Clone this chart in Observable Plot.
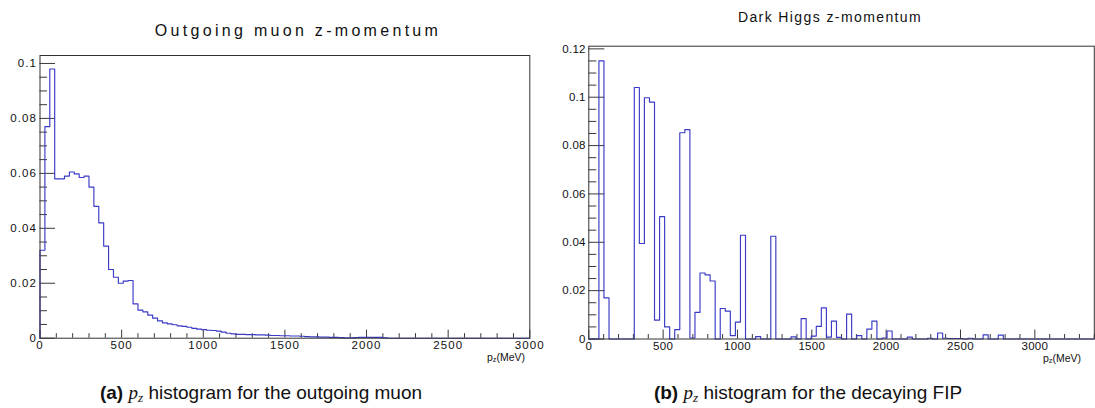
<!DOCTYPE html>
<html>
<head>
<meta charset="utf-8">
<script src="https://cdn.jsdelivr.net/npm/d3@7"></script>
<script src="https://cdn.jsdelivr.net/npm/@observablehq/plot@0.6"></script>
<style>
  html, body { margin: 0; padding: 0; background: #fff; }
  body { width: 1095px; height: 408px; position: relative; overflow: hidden; font-family: "Liberation Sans", Arial, sans-serif; color: #000; }
  .panel { position: absolute; top: 0; }
  .title { position: absolute; white-space: nowrap; transform: translateX(-50%); color: #111; }
  .caption { position: absolute; white-space: nowrap; transform: translateX(-50%); font-size: 19px; top: 382px; color: #111; }
  .caption .m { font-family: "Liberation Serif", "DejaVu Serif", serif; font-style: italic; }
  .caption sub { font-size: 70%; vertical-align: -0.25em; }
  .axlab { position: absolute; white-space: nowrap; font-size: 10.5px; line-height: 11px; color: #111; }
  .axlab sub { font-size: 70%; vertical-align: -0.2em; }
</style>
</head>
<body>
<div id="left" class="panel" style="left:0px"></div>
<div id="right" class="panel" style="left:545px"></div>
<div class="title" style="left:298px; top:22px; font-size:16px; letter-spacing:3.3px;">Outgoing muon z-momentum</div>
<div class="title" style="left:830px; top:9px; font-size:14px; letter-spacing:1.4px;">Dark Higgs z-momentum</div>
<div class="axlab" style="left:487px; top:352px;">p<sub>z</sub>(MeV)</div>
<div class="axlab" style="left:1043px; top:353px;">p<sub>z</sub>(MeV)</div>
<div class="caption" style="left:261px;"><b>(a)</b> <span class="m">p<sub>z</sub></span> histogram for the outgoing muon</div>
<div class="caption" style="left:808px;"><b>(b)</b> <span class="m">p<sub>z</sub></span> histogram for the decaying FIP</div>
<script>
// ---- Data ----
const muonBinWidth = 30;   // MeV, 100 bins over 0..3000
const muonValues = [
  0.032, 0.077, 0.098, 0.058, 0.058, 0.059, 0.0605, 0.0598, 0.0585, 0.059,
  0.055, 0.048, 0.042, 0.0335, 0.025, 0.0222, 0.020, 0.0208, 0.021, 0.0125,
  0.0102, 0.0096, 0.0084, 0.0073, 0.0063, 0.0056, 0.0052, 0.0049, 0.0045, 0.0043,
  0.0040, 0.0036, 0.0033, 0.0031, 0.0029, 0.0028, 0.0026, 0.0022, 0.0018, 0.0016,
  0.0014, 0.0014, 0.0013, 0.0013, 0.0012, 0.0012, 0.0011, 0.0010, 0.0010, 0.0009,
  0.0009, 0.0008, 0.0008, 0.0007, 0.0006, 0.0005, 0.0005, 0.0004, 0.0004, 0.0003,
  0.0003, 0.0002, 0.0001, 0.0001, 0.0002, 0.0003, 0.0003, 0.0003, 0.0003, 0.0003,
  0.0001, 0, 0, 0, 0, 0, 0, 0, 0, 0,
  0, 0, 0, 0, 0, 0, 0, 0, 0, 0,
  0, 0, 0, 0, 0, 0, 0, 0, 0, 0
];
const higgsBinWidth = 34;  // MeV, 100 bins over 0..3400
const higgsValues = [
  0, 0, 0.115, 0.017, 0, 0, 0, 0, 0, 0.104,
  0.0395, 0.0998, 0.098, 0.0078, 0.0506, 0.005, 0, 0.0039, 0.0853, 0.0866,
  0.0004, 0.011, 0.0273, 0.0265, 0.024, 0, 0.0126, 0.0115, 0.0014, 0.007,
  0.0429, 0, 0, 0.001, 0, 0, 0.0425, 0, 0, 0,
  0.0009, 0, 0.0084, 0, 0.0012, 0.0052, 0.0129, 0.0008, 0.0074, 0.0007,
  0, 0.0103, 0, 0.0014, 0, 0.0041, 0.0074, 0, 0.0004, 0.0033,
  0, 0, 0, 0.0008, 0, 0, 0, 0.0003, 0, 0.0025,
  0.0003, 0.0002, 0.0002, 0.0002, 0, 0.0003, 0, 0, 0.0017, 0,
  0, 0.0016, 0, 0, 0, 0, 0, 0, 0, 0,
  0, 0, 0, 0, 0, 0, 0, 0, 0, 0
];
const muonXMajor = [0, 500, 1000, 1500, 2000, 2500, 3000];
const muonYMajor = [0, 0.02, 0.04, 0.06, 0.08, 0.1];
const higgsXMajor = [0, 500, 1000, 1500, 2000, 2500, 3000];
const higgsYMajor = [0, 0.02, 0.04, 0.06, 0.08, 0.1, 0.12];

// ---- Helpers ----
function histPoints(values, w) {
  const pts = [{x: 0, y: 0}];
  values.forEach((v, i) => pts.push({x: i * w, y: v}));
  pts.push({x: values.length * w, y: values[values.length - 1]});
  pts.push({x: values.length * w, y: 0});
  return pts;
}
function minorTicks(step, max, majors) {
  return d3.range(0, max + step / 2, step)
    .map(v => +v.toFixed(6))
    .filter(v => !majors.some(m => Math.abs(m - v) < step / 10));
}
const fmtY = d => String(+d.toFixed(3));

function panel(o) {
  const fw = o.width - o.ml - o.mr;
  const fh = o.height - o.mt - o.mb;
  const axisColor = "#222";
  return Plot.plot({
    width: o.width, height: o.height,
    marginLeft: o.ml, marginRight: o.mr, marginTop: o.mt, marginBottom: o.mb,
    x: {domain: o.xDomain},
    y: {domain: o.yDomain},
    style: {fontFamily: "'Liberation Sans', Arial, sans-serif", fontSize: "11.5px", background: "#fff", color: "#111", letterSpacing: o.ls + "px"},
    marks: [
      Plot.tickX(o.xMinor, {x: d => d, stroke: axisColor, strokeWidth: 0.9, insetTop: fh - o.xMinorLen}),
      Plot.tickX(o.xMajor, {x: d => d, stroke: axisColor, strokeWidth: 0.9, insetTop: fh - o.xMajorLen}),
      Plot.tickY(o.yMinor, {y: d => d, stroke: axisColor, strokeWidth: 0.9, insetRight: fw - o.yMinorLen}),
      Plot.tickY(o.yMajor, {y: d => d, stroke: axisColor, strokeWidth: 0.9, insetRight: fw - o.yMajorLen}),
      Plot.axisX({ticks: o.xMajor, tickSize: 0, tickPadding: 3, tickFormat: d => String(d), label: null}),
      Plot.axisY({ticks: o.yMajor, tickSize: 0, tickPadding: 3, tickFormat: fmtY, label: null}),
      Plot.line(histPoints(o.values, o.binWidth), {x: "x", y: "y", curve: "step-after", stroke: "#3a3ac6", strokeWidth: 1.15}),
      Plot.frame({stroke: "#333", strokeWidth: 1})
    ]
  });
}

document.getElementById("left").appendChild(panel({
  width: 545, height: 365, ml: 39.5, mr: 15.7, mt: 55, mb: 27.3,
  xDomain: [0, 3000], yDomain: [0, 0.1029],
  xMajor: muonXMajor, xMinor: minorTicks(100, 3000, muonXMajor),
  yMajor: muonYMajor, yMinor: minorTicks(0.005, 0.1, muonYMajor),
  xMajorLen: 8, xMinorLen: 4.5, yMajorLen: 15.5, yMinorLen: 7.5,
  values: muonValues, binWidth: muonBinWidth, ls: 1.1
}));

document.getElementById("right").appendChild(panel({
  width: 550, height: 365, ml: 43.3, mr: 1.2, mt: 45.7, mb: 26.5,
  xDomain: [0, 3400], yDomain: [0, 0.1211],
  xMajor: higgsXMajor, xMinor: minorTicks(100, 3400, higgsXMajor),
  yMajor: higgsYMajor, yMinor: minorTicks(0.005, 0.12, higgsYMajor),
  xMajorLen: 9, xMinorLen: 4.5, yMajorLen: 16, yMinorLen: 8,
  values: higgsValues, binWidth: higgsBinWidth, ls: 0.3
}));
</script>
</body>
</html>
